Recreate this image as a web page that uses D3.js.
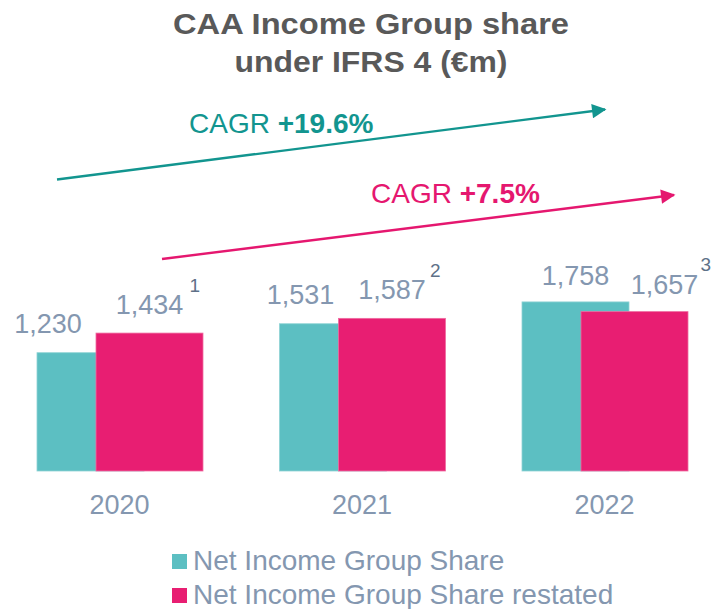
<!DOCTYPE html>
<html>
<head>
<meta charset="utf-8">
<script src="https://cdn.jsdelivr.net/npm/d3@7"></script>
<style>
  html, body { margin: 0; padding: 0; background: #ffffff; }
  svg { display: block; font-family: "Liberation Sans", Arial, sans-serif; }
</style>
</head>
<body>
<div id="chart"></div>
<script>
// ---- data ----
const years = ["2020", "2021", "2022"];
const netIncome = [1230, 1531, 1758];
const netIncomeRestated = [1434, 1587, 1657];
const restatedNotes = ["1", "2", "3"];
const seriesNames = ["Net Income Group Share", "Net Income Group Share restated"];
const cagrLabels = [{ pre: "CAGR ", bold: "+19.6%" }, { pre: "CAGR ", bold: "+7.5%" }];
const titleLines = ["CAA Income Group share", "under IFRS 4 (€m)"];

// ---- layout ----
const W = 714, H = 609;
const colors = { teal: "#5CBFC2", pink: "#E81E72", tealArrow: "#12958F", pinkArrow: "#E5176F",
                 label: "#8497B0", note: "#5E7188", title: "#595959" };
const baseY = 471;
const barW = 107;
const tealOff = -82.5, pinkOff = -23.5;
// manual label nudges (as placed in the original slide)
const tealLabelDx = [-42.5, -32.5, 0];
const pinkLabelDx = [0, 0, 30];
const noteDx = [40, 38, 36];

const svg = d3.select("#chart").append("svg").attr("width", W).attr("height", H);

const x = d3.scalePoint().domain(years).range([119.5, 604.5]);
const y = d3.scaleLinear().domain([0, 1000]).range([baseY, baseY - 96.18]);

// title (slightly horizontally stretched, as in the slide)
const titleW = [396, 273];
svg.append("g").selectAll("text").data(titleLines).join("text")
  .attr("x", 371).attr("y", (d, i) => 34 + i * 37.5)
  .attr("text-anchor", "middle").attr("font-size", 29).attr("font-weight", "bold")
  .attr("textLength", (d, i) => titleW[i]).attr("lengthAdjust", "spacingAndGlyphs")
  .attr("fill", colors.title).text(d => d);

// arrows
const defs = svg.append("defs");
[["tealHead", colors.tealArrow], ["pinkHead", colors.pinkArrow]].forEach(([id, c]) => {
  defs.append("marker").attr("id", id).attr("viewBox", "0 0 10 10").attr("refX", 9).attr("refY", 5)
    .attr("markerWidth", 6.5).attr("markerHeight", 6).attr("markerUnits", "strokeWidth").attr("orient", "auto")
    .append("path").attr("d", "M0,0 L10,5 L0,10 Z").attr("fill", c);
});
const arrows = [
  { x1: 57, y1: 179.5, x2: 605, y2: 109.5, c: colors.tealArrow, m: "tealHead" },
  { x1: 162, y1: 259, x2: 674, y2: 195, c: colors.pinkArrow, m: "pinkHead" }
];
svg.append("g").selectAll("line").data(arrows).join("line")
  .attr("x1", d => d.x1).attr("y1", d => d.y1).attr("x2", d => d.x2).attr("y2", d => d.y2)
  .attr("stroke", d => d.c).attr("stroke-width", 2.4).attr("marker-end", d => `url(#${d.m})`);

const cagrPos = [{ x: 189, y: 133, c: colors.tealArrow }, { x: 371, y: 203, c: colors.pinkArrow }];
cagrLabels.forEach((d, i) => {
  const t = svg.append("text").attr("x", cagrPos[i].x).attr("y", cagrPos[i].y)
    .attr("font-size", 28).attr("fill", cagrPos[i].c);
  t.append("tspan").text(d.pre);
  t.append("tspan").attr("font-weight", "bold").text(d.bold);
});

// bars
svg.append("g").selectAll("rect").data(netIncome).join("rect")
  .attr("x", (d, i) => x(years[i]) + tealOff).attr("width", barW)
  .attr("y", d => y(d)).attr("height", d => baseY - y(d))
  .attr("fill", colors.teal).attr("stroke", "#8fd3d5").attr("stroke-width", 0.8);
svg.append("g").selectAll("rect").data(netIncomeRestated).join("rect")
  .attr("x", (d, i) => x(years[i]) + pinkOff).attr("width", barW)
  .attr("y", d => y(d)).attr("height", d => baseY - y(d))
  .attr("fill", colors.pink).attr("stroke", "#ef6ba0").attr("stroke-width", 0.8);

// value labels
const fmt = d3.format(",");
svg.append("g").selectAll("text").data(netIncome).join("text")
  .attr("x", (d, i) => x(years[i]) + tealOff + barW / 2 + tealLabelDx[i])
  .attr("y", (d, i) => y(d) - (i === 2 ? 17 : 20))
  .attr("text-anchor", "middle").attr("font-size", 27).attr("fill", colors.label).text(d => fmt(d));
const pinkLbl = svg.append("g").selectAll("g").data(netIncomeRestated).join("g");
pinkLbl.append("text")
  .attr("x", (d, i) => x(years[i]) + pinkOff + barW / 2 + pinkLabelDx[i])
  .attr("y", (d, i) => y(d) - (i === 2 ? 18 : 19.5))
  .attr("text-anchor", "middle").attr("font-size", 27).attr("fill", colors.label).text(d => fmt(d));
pinkLbl.append("text")
  .attr("x", (d, i) => x(years[i]) + pinkOff + barW / 2 + pinkLabelDx[i] + noteDx[i])
  .attr("y", (d, i) => y(d) - 41)
  .attr("font-size", 19).attr("fill", colors.note).text((d, i) => restatedNotes[i]);

// x axis labels
svg.append("g").selectAll("text").data(years).join("text")
  .attr("x", d => x(d)).attr("y", 514)
  .attr("text-anchor", "middle").attr("font-size", 27).attr("fill", colors.label).text(d => d);

// legend
const leg = svg.append("g").selectAll("g").data(seriesNames).join("g")
  .attr("transform", (d, i) => `translate(172, ${554 + i * 34})`);
leg.append("rect").attr("width", 15).attr("height", 15)
  .attr("fill", (d, i) => i === 0 ? colors.teal : colors.pink);
leg.append("text").attr("x", 21).attr("y", 16).attr("font-size", 28)
  .attr("fill", colors.label).text(d => d);
</script>
</body>
</html>
